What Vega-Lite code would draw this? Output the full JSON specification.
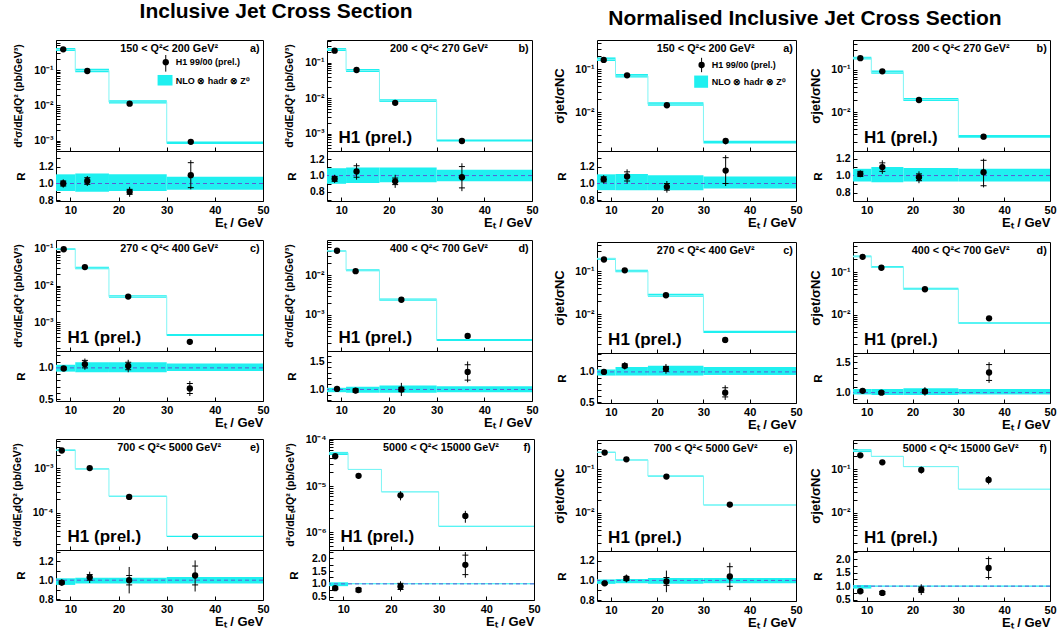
{
"$schema": "https://vega.github.io/schema/vega-lite/v6.json",
"padding": {"left": 11, "top": 0, "right": 0, "bottom": 0},
"background": "white",
"data": {"name": "pts"},
"datasets": {
"pts": [
{"p":"La","lo":7,"hi":11,"x":8.5,"y":0.386,"ylo":0.367,"yhi":0.405,"n":0.38,"nlo":0.346,"nhi":0.422,"r":1.0,"rlo":0.95,"rhi":1.05,"rslo":0.97,"rshi":1.03,"blo":0.91,"bhi":1.11},
{"p":"La","lo":11,"hi":18,"x":13.5,"y":0.094,"ylo":0.0884,"yhi":0.0996,"n":0.097,"nlo":0.0873,"nhi":0.1086,"r":1.03,"rlo":0.97,"rhi":1.09,"rslo":0.99,"rshi":1.07,"blo":0.90,"bhi":1.12},
{"p":"La","lo":18,"hi":30,"x":22.3,"y":0.0112,"ylo":0.0105,"yhi":0.0119,"n":0.0125,"nlo":0.01138,"nhi":0.01388,"r":0.90,"rlo":0.84,"rhi":0.96,"rslo":0.87,"rshi":0.93,"blo":0.91,"bhi":1.11},
{"p":"La","lo":30,"hi":50,"x":35,"y":0.00093,"ylo":0.00079,"yhi":0.00108,"n":0.00087,"nlo":0.000805,"nhi":0.00094,"r":1.10,"rlo":0.93,"rhi":1.28,"rslo":0.95,"rshi":1.25,"blo":0.925,"bhi":1.08},
{"p":"Lb","lo":7,"hi":11,"x":8.6,"y":0.216,"ylo":0.205,"yhi":0.227,"n":0.235,"nlo":0.2115,"nhi":0.256,"r":0.96,"rlo":0.91,"rhi":1.01,"rslo":0.93,"rshi":0.99,"blo":0.90,"bhi":1.09},
{"p":"Lb","lo":11,"hi":18,"x":13.2,"y":0.062,"ylo":0.056,"yhi":0.068,"n":0.06,"nlo":0.0546,"nhi":0.066,"r":1.05,"rlo":0.95,"rhi":1.15,"rslo":0.98,"rshi":1.12,"blo":0.91,"bhi":1.10},
{"p":"Lb","lo":18,"hi":30,"x":21.3,"y":0.0074,"ylo":0.0068,"yhi":0.008,"n":0.0085,"nlo":0.00782,"nhi":0.00935,"r":0.93,"rlo":0.85,"rhi":1.01,"rslo":0.89,"rshi":0.97,"blo":0.92,"bhi":1.10},
{"p":"Lb","lo":30,"hi":50,"x":35.3,"y":0.00063,"ylo":0.00052,"yhi":0.00074,"n":0.00065,"nlo":0.000605,"nhi":0.000696,"r":0.98,"rlo":0.81,"rhi":1.15,"rslo":0.85,"rshi":1.11,"blo":0.93,"bhi":1.07},
{"p":"Lc","lo":7,"hi":11,"x":8.6,"y":0.098,"ylo":0.095,"yhi":0.101,"n":0.1,"nlo":0.094,"nhi":0.105,"r":0.99,"rlo":0.96,"rhi":1.02,"rslo":0.97,"rshi":1.01,"blo":0.94,"bhi":1.05},
{"p":"Lc","lo":11,"hi":18,"x":13.0,"y":0.0318,"ylo":0.0291,"yhi":0.0345,"n":0.0298,"nlo":0.0277,"nhi":0.0325,"r":1.06,"rlo":0.97,"rhi":1.15,"rslo":1.0,"rshi":1.12,"blo":0.93,"bhi":1.09},
{"p":"Lc","lo":18,"hi":30,"x":22.0,"y":0.005,"ylo":0.0045,"yhi":0.0055,"n":0.005,"nlo":0.00465,"nhi":0.00545,"r":1.03,"rlo":0.93,"rhi":1.13,"rslo":0.97,"rshi":1.09,"blo":0.93,"bhi":1.09},
{"p":"Lc","lo":30,"hi":50,"x":34.8,"y":0.00029,"ylo":0.00024,"yhi":0.00034,"n":0.00044,"nlo":0.000418,"nhi":0.000471,"r":0.67,"rlo":0.55,"rhi":0.79,"rslo":0.59,"rshi":0.75,"blo":0.95,"bhi":1.07},
{"p":"Ld","lo":7,"hi":11,"x":9.1,"y":0.041,"ylo":0.0402,"yhi":0.0418,"n":0.041,"nlo":0.039,"nhi":0.0422,"r":1.01,"rlo":0.99,"rhi":1.03,"rslo":1.0,"rshi":1.02,"blo":0.95,"bhi":1.03},
{"p":"Ld","lo":11,"hi":18,"x":13.0,"y":0.0126,"ylo":0.012,"yhi":0.0132,"n":0.0133,"nlo":0.0125,"nhi":0.01397,"r":0.98,"rlo":0.93,"rhi":1.03,"rslo":0.95,"rshi":1.01,"blo":0.94,"bhi":1.05},
{"p":"Ld","lo":18,"hi":30,"x":22.6,"y":0.0024,"ylo":0.0021,"yhi":0.0027,"n":0.0024,"nlo":0.002256,"nhi":0.002568,"r":1.0,"rlo":0.88,"rhi":1.12,"rslo":0.96,"rshi":1.04,"blo":0.94,"bhi":1.07},
{"p":"Ld","lo":30,"hi":50,"x":36.5,"y":0.000295,"ylo":0.00025,"yhi":0.00034,"n":0.000231,"nlo":0.000219,"nhi":0.000245,"r":1.32,"rlo":1.13,"rhi":1.51,"rslo":1.17,"rshi":1.45,"blo":0.95,"bhi":1.06},
{"p":"Le","lo":7,"hi":11,"x":8.2,"y":0.00247,"ylo":0.00238,"yhi":0.00256,"n":0.00255,"nlo":0.00242,"nhi":0.0026,"r":0.975,"rlo":0.94,"rhi":1.01,"rslo":0.96,"rshi":0.99,"blo":0.95,"bhi":1.02},
{"p":"Le","lo":11,"hi":18,"x":14.0,"y":0.001,"ylo":0.00094,"yhi":0.00106,"n":0.00097,"nlo":0.000936,"nhi":0.000994,"r":1.03,"rlo":0.97,"rhi":1.09,"rslo":1.0,"rshi":1.06,"blo":0.965,"bhi":1.025},
{"p":"Le","lo":18,"hi":30,"x":22.2,"y":0.000227,"ylo":0.000195,"yhi":0.000259,"n":0.000235,"nlo":0.000227,"nhi":0.000241,"r":1.0,"rlo":0.86,"rhi":1.14,"rslo":0.95,"rshi":1.05,"blo":0.965,"bhi":1.025},
{"p":"Le","lo":30,"hi":50,"x":35.9,"y":0.00003,"ylo":0.000025,"yhi":0.000035,"n":0.00003,"nlo":0.000029,"nhi":0.000031,"r":1.05,"rlo":0.88,"rhi":1.21,"rslo":0.95,"rshi":1.15,"blo":0.965,"bhi":1.035},
{"p":"Lf","lo":7,"hi":11,"x":8.3,"y":4.43e-5,"ylo":4.0e-5,"yhi":4.9e-5,"n":5.2e-5,"nlo":4.73e-5,"nhi":5.51e-5,"r":0.83,"rlo":0.75,"rhi":0.91,"rslo":0.78,"rshi":0.88,"blo":0.91,"bhi":1.06},
{"p":"Lf","lo":11,"hi":18,"x":13.2,"y":1.67e-5,"ylo":1.45e-5,"yhi":1.9e-5,"n":2.3e-5,"nlo":2.25e-5,"nhi":2.35e-5,"r":0.76,"rlo":0.66,"rhi":0.86,"rslo":0.69,"rshi":0.83,"blo":0.98,"bhi":1.02},
{"p":"Lf","lo":18,"hi":30,"x":22.0,"y":6.3e-6,"ylo":4.9e-6,"yhi":7.7e-6,"n":7.5e-6,"nlo":7.35e-6,"nhi":7.65e-6,"r":0.9,"rlo":0.7,"rhi":1.1,"rslo":0.78,"rshi":1.02,"blo":0.98,"bhi":1.02},
{"p":"Lf","lo":30,"hi":50,"x":35.6,"y":2.25e-6,"ylo":1.6e-6,"yhi":2.9e-6,"n":1.34e-6,"nlo":1.31e-6,"nhi":1.37e-6,"r":1.74,"rlo":1.24,"rhi":2.24,"rslo":1.36,"rshi":2.12,"blo":0.98,"bhi":1.02},
{"p":"Ra","lo":7,"hi":11,"x":8.45,"y":0.165,"ylo":0.157,"yhi":0.173,"n":0.17,"nlo":0.156,"nhi":0.189,"r":1.05,"rlo":1.0,"rhi":1.1,"rslo":1.02,"rshi":1.08,"blo":0.92,"bhi":1.11},
{"p":"Ra","lo":11,"hi":18,"x":13.5,"y":0.0725,"ylo":0.067,"yhi":0.078,"n":0.07,"nlo":0.0644,"nhi":0.078,"r":1.085,"rlo":1.0,"rhi":1.17,"rslo":1.03,"rshi":1.14,"blo":0.92,"bhi":1.115},
{"p":"Ra","lo":18,"hi":30,"x":22.1,"y":0.0146,"ylo":0.0135,"yhi":0.0157,"n":0.0155,"nlo":0.01426,"nhi":0.01705,"r":0.96,"rlo":0.89,"rhi":1.03,"rslo":0.92,"rshi":1.0,"blo":0.92,"bhi":1.10},
{"p":"Ra","lo":30,"hi":50,"x":34.8,"y":0.00215,"ylo":0.0018,"yhi":0.0025,"n":0.002,"nlo":0.00188,"nhi":0.00217,"r":1.155,"rlo":0.97,"rhi":1.34,"rslo":1.0,"rshi":1.31,"blo":0.94,"bhi":1.085},
{"p":"Rb","lo":7,"hi":11,"x":8.6,"y":0.19,"ylo":0.182,"yhi":0.198,"n":0.19,"nlo":0.177,"nhi":0.205,"r":1.02,"rlo":0.98,"rhi":1.06,"rslo":0.99,"rshi":1.05,"blo":0.93,"bhi":1.08},
{"p":"Rb","lo":11,"hi":18,"x":13.4,"y":0.093,"ylo":0.086,"yhi":0.1,"n":0.088,"nlo":0.081,"nhi":0.0968,"r":1.1,"rlo":1.02,"rhi":1.18,"rslo":1.05,"rshi":1.15,"blo":0.92,"bhi":1.10},
{"p":"Rb","lo":18,"hi":30,"x":21.4,"y":0.0195,"ylo":0.0181,"yhi":0.0209,"n":0.02,"nlo":0.0186,"nhi":0.0218,"r":0.98,"rlo":0.91,"rhi":1.05,"rslo":0.94,"rshi":1.02,"blo":0.93,"bhi":1.09},
{"p":"Rb","lo":30,"hi":50,"x":35.5,"y":0.00266,"ylo":0.0023,"yhi":0.003,"n":0.0027,"nlo":0.00251,"nhi":0.00292,"r":1.04,"rlo":0.86,"rhi":1.2,"rslo":0.88,"rshi":1.18,"blo":0.93,"bhi":1.08},
{"p":"Rc","lo":7,"hi":11,"x":8.5,"y":0.186,"ylo":0.182,"yhi":0.19,"n":0.195,"nlo":0.183,"nhi":0.203,"r":1.0,"rlo":0.98,"rhi":1.02,"rslo":0.99,"rshi":1.01,"blo":0.94,"bhi":1.04},
{"p":"Rc","lo":11,"hi":18,"x":13.0,"y":0.104,"ylo":0.099,"yhi":0.109,"n":0.1,"nlo":0.094,"nhi":0.108,"r":1.1,"rlo":1.04,"rhi":1.16,"rslo":1.07,"rshi":1.13,"blo":0.94,"bhi":1.08},
{"p":"Rc","lo":18,"hi":30,"x":21.9,"y":0.0274,"ylo":0.0254,"yhi":0.0294,"n":0.027,"nlo":0.0254,"nhi":0.0297,"r":1.05,"rlo":0.97,"rhi":1.13,"rslo":1.01,"rshi":1.09,"blo":0.94,"bhi":1.10},
{"p":"Rc","lo":30,"hi":50,"x":34.7,"y":0.0025,"ylo":0.0021,"yhi":0.0029,"n":0.0038,"nlo":0.00361,"nhi":0.0041,"r":0.66,"rlo":0.54,"rhi":0.78,"rslo":0.59,"rshi":0.74,"blo":0.95,"bhi":1.08},
{"p":"Rd","lo":7,"hi":11,"x":9.1,"y":0.227,"ylo":0.222,"yhi":0.232,"n":0.23,"nlo":0.223,"nhi":0.244,"r":1.03,"rlo":1.01,"rhi":1.05,"rslo":1.02,"rshi":1.04,"blo":0.97,"bhi":1.06},
{"p":"Rd","lo":11,"hi":18,"x":13.2,"y":0.126,"ylo":0.121,"yhi":0.131,"n":0.13,"nlo":0.125,"nhi":0.138,"r":1.0,"rlo":0.96,"rhi":1.04,"rslo":0.98,"rshi":1.02,"blo":0.96,"bhi":1.06},
{"p":"Rd","lo":18,"hi":30,"x":22.7,"y":0.0395,"ylo":0.037,"yhi":0.042,"n":0.04,"nlo":0.0384,"nhi":0.0428,"r":1.02,"rlo":0.95,"rhi":1.09,"rslo":0.99,"rshi":1.05,"blo":0.96,"bhi":1.07},
{"p":"Rd","lo":30,"hi":50,"x":36.7,"y":0.0082,"ylo":0.0072,"yhi":0.0092,"n":0.0063,"nlo":0.00611,"nhi":0.00668,"r":1.33,"rlo":1.16,"rhi":1.5,"rslo":1.2,"rshi":1.46,"blo":0.97,"bhi":1.06},
{"p":"Re","lo":7,"hi":11,"x":8.65,"y":0.243,"ylo":0.238,"yhi":0.248,"n":0.25,"nlo":0.241,"nhi":0.2525,"r":0.97,"rlo":0.95,"rhi":0.99,"rslo":0.96,"rshi":0.98,"blo":0.965,"bhi":1.01},
{"p":"Re","lo":11,"hi":18,"x":13.35,"y":0.17,"ylo":0.163,"yhi":0.177,"n":0.165,"nlo":0.16,"nhi":0.1675,"r":1.02,"rlo":0.98,"rhi":1.06,"rslo":1.0,"rshi":1.04,"blo":0.97,"bhi":1.015},
{"p":"Re","lo":18,"hi":30,"x":22.0,"y":0.068,"ylo":0.06,"yhi":0.076,"n":0.07,"nlo":0.0676,"nhi":0.0718,"r":0.99,"rlo":0.88,"rhi":1.1,"rslo":0.95,"rshi":1.03,"blo":0.965,"bhi":1.025},
{"p":"Re","lo":30,"hi":50,"x":35.7,"y":0.0153,"ylo":0.0132,"yhi":0.0174,"n":0.015,"nlo":0.01455,"nhi":0.01538,"r":1.04,"rlo":0.9,"rhi":1.18,"rslo":0.94,"rshi":1.14,"blo":0.97,"bhi":1.025},
{"p":"Rf","lo":7,"hi":11,"x":8.6,"y":0.21,"ylo":0.195,"yhi":0.225,"n":0.27,"nlo":0.25,"nhi":0.29,"r":0.81,"rlo":0.75,"rhi":0.87,"rslo":0.77,"rshi":0.85,"blo":0.91,"bhi":1.04},
{"p":"Rf","lo":11,"hi":18,"x":13.4,"y":0.145,"ylo":0.13,"yhi":0.16,"n":0.2,"nlo":0.196,"nhi":0.204,"r":0.75,"rlo":0.67,"rhi":0.83,"rslo":0.7,"rshi":0.8,"blo":0.98,"bhi":1.02},
{"p":"Rf","lo":18,"hi":30,"x":21.9,"y":0.097,"ylo":0.079,"yhi":0.115,"n":0.115,"nlo":0.113,"nhi":0.117,"r":0.87,"rlo":0.67,"rhi":1.07,"rslo":0.77,"rshi":0.97,"blo":0.98,"bhi":1.02},
{"p":"Rf","lo":30,"hi":50,"x":36.6,"y":0.057,"ylo":0.045,"yhi":0.07,"n":0.035,"nlo":0.0343,"nhi":0.0357,"r":1.67,"rlo":1.24,"rhi":2.1,"rslo":1.32,"rshi":2.02,"blo":0.98,"bhi":1.02}
],
"ann": [
{"p":"La","q2":"150 < Q²< 200 GeV²","letter":"a)","leg1":"H1 99/00 (prel.)","leg2":"NLO ⊗ hadr ⊗ Z⁰"},
{"p":"Lb","q2":"200 < Q²< 270 GeV²","letter":"b)","h1":"H1 (prel.)"},
{"p":"Lc","q2":"270 < Q²< 400 GeV²","letter":"c)","h1":"H1 (prel.)"},
{"p":"Ld","q2":"400 < Q²< 700 GeV²","letter":"d)","h1":"H1 (prel.)"},
{"p":"Le","q2":"700 < Q²< 5000 GeV²","letter":"e)","h1":"H1 (prel.)"},
{"p":"Lf","q2":"5000 < Q²< 15000 GeV²","letter":"f)","h1":"H1 (prel.)"},
{"p":"Ra","q2":"150 < Q²< 200 GeV²","letter":"a)","leg1":"H1 99/00 (prel.)","leg2":"NLO ⊗ hadr ⊗ Z⁰"},
{"p":"Rb","q2":"200 < Q²< 270 GeV²","letter":"b)","h1":"H1 (prel.)"},
{"p":"Rc","q2":"270 < Q²< 400 GeV²","letter":"c)","h1":"H1 (prel.)"},
{"p":"Rd","q2":"400 < Q²< 700 GeV²","letter":"d)","h1":"H1 (prel.)"},
{"p":"Re","q2":"700 < Q²< 5000 GeV²","letter":"e)","h1":"H1 (prel.)"},
{"p":"Rf","q2":"5000 < Q²< 15000 GeV²","letter":"f)","h1":"H1 (prel.)"}
]
},
"hconcat": [
{
"title": {"text": "Inclusive Jet Cross Section", "fontSize": 21, "anchor": "middle", "offset": -4, "baseline": "alphabetic"},
"spacing": 6,
"vconcat": [
{"spacing": 14, "hconcat": [
{"spacing": 0, "bounds": "flush", "vconcat": [
{"width": 207, "height": 111, "transform": [{"filter": "datum.p=='La'"}], "layer": [
{"mark": {"type": "rect", "color": "#1ff0f0"}, "encoding": {
"x": {"field": "lo", "type": "quantitative", "scale": {"domain": [7, 50], "nice": false, "zero": false}, "axis": {"values": [10,20,30,40,50], "labels": false, "title": null}},
"x2": {"field": "hi"},
"y": {"field": "nlo", "type": "quantitative", "scale": {"type": "log", "domain": [5.1e-4, 0.71], "nice": false}, "axis": {"tickCount": 100, "values": [1e-7,2e-7,3e-7,4e-7,5e-7,6e-7,7e-7,8e-7,9e-7,1e-6,2e-6,3e-6,4e-6,5e-6,6e-6,7e-6,8e-6,9e-6,1e-5,2e-5,3e-5,4e-5,5e-5,6e-5,7e-5,8e-5,9e-5,1e-4,2e-4,3e-4,4e-4,5e-4,6e-4,7e-4,8e-4,9e-4,0.001,0.002,0.003,0.004,0.005,0.006,0.007,0.008,0.009,0.01,0.02,0.03,0.04,0.05,0.06,0.07,0.08,0.09,0.1,0.2,0.3,0.4,0.5,0.6,0.7,0.8,0.9,1], "labelExpr": "abs(log(datum.value)/LN10-round(log(datum.value)/LN10))<0.01 ? '10'+['⁻⁷','⁻⁶','⁻⁵','⁻⁴','⁻³','⁻²','⁻¹','⁰'][round(log(datum.value)/LN10)+7] : ''", "title": "d²σ/dEₜdQ² (pb/GeV³)", "titleFontSize": 10.5, "titlePadding": 10, "labelFontSize": 10.5}},
"y2": {"field": "nhi"}}},
{"mark": {"type": "line", "interpolate": "step-after", "color": "#7ff5f5", "strokeWidth": 1}, "encoding": {"x": {"field": "lo", "type": "quantitative"}, "y": {"field": "n", "type": "quantitative"}}},
{"mark": {"type": "rule", "color": "black"}, "encoding": {"x": {"field": "x", "type": "quantitative"}, "y": {"field": "ylo", "type": "quantitative"}, "y2": {"field": "yhi"}}},
{"mark": {"type": "circle", "color": "black", "size": 40, "opacity": 1}, "encoding": {"x": {"field": "x", "type": "quantitative"}, "y": {"field": "y", "type": "quantitative"}}},
{"data": {"name": "ann"}, "transform": [{"filter": "datum.p=='La'"}], "mark": {"type": "text", "fontSize": 10.8, "fontWeight": "bold", "align": "center", "baseline": "alphabetic"}, "encoding": {"text": {"field": "q2"}, "x": {"datum": 30.5}, "y": {"datum": 0.324}}},
{"data": {"name": "ann"}, "transform": [{"filter": "datum.p=='La'"}], "mark": {"type": "text", "fontSize": 10.8, "fontWeight": "bold", "align": "right", "baseline": "alphabetic"}, "encoding": {"text": {"field": "letter"}, "x": {"datum": 49.3}, "y": {"datum": 0.324}}},
{"data": {"name": "ann"}, "transform": [{"filter": "datum.p=='La'"}], "mark": {"type": "rect", "color": "#1ff0f0"}, "encoding": {"x": {"datum": 28.1}, "x2": {"datum": 31.2}, "y": {"datum": 0.0365}, "y2": {"datum": 0.0726}}},
{"data": {"name": "ann"}, "transform": [{"filter": "datum.p=='La'"}], "mark": {"type": "rule", "color": "black"}, "encoding": {"x": {"datum": 29.8}, "y": {"datum": 0.0902}, "y2": {"datum": 0.267}}},
{"data": {"name": "ann"}, "transform": [{"filter": "datum.p=='La'"}], "mark": {"type": "circle", "color": "black", "size": 40, "opacity": 1}, "encoding": {"x": {"datum": 29.8}, "y": {"datum": 0.167}}},
{"data": {"name": "ann"}, "transform": [{"filter": "datum.p=='La'"}], "mark": {"type": "text", "fontSize": 9, "fontWeight": "bold", "align": "left", "baseline": "middle"}, "encoding": {"text": {"field": "leg1"}, "x": {"datum": 31.9}, "y": {"datum": 0.167}}},
{"data": {"name": "ann"}, "transform": [{"filter": "datum.p=='La'"}], "mark": {"type": "text", "fontSize": 9, "fontWeight": "bold", "align": "left", "baseline": "middle"}, "encoding": {"text": {"field": "leg2"}, "x": {"datum": 31.9}, "y": {"datum": 0.0499}}}
]},
{"width": 207, "height": 50, "transform": [{"filter": "datum.p=='La'"}], "layer": [
{"mark": {"type": "rect", "color": "#1ff0f0"}, "encoding": {
"x": {"field": "lo", "type": "quantitative", "scale": {"domain": [7, 50], "nice": false, "zero": false}, "axis": {"values": [10,20,30,40,50], "title": "Eₜ / GeV", "titleAnchor": "end", "titleFontSize": 13, "labelFontSize": 11, "titlePadding": 1}},
"x2": {"field": "hi"},
"y": {"field": "blo", "type": "quantitative", "scale": {"domain": [0.79, 1.39], "nice": false, "zero": false}, "axis": {"tickCount": 100, "values": [0.4,0.5,0.6,0.7,0.8,0.9,1.0,1.1,1.2,1.3,1.4,1.5], "labelExpr": "abs(datum.value*5-round(datum.value*5))<0.01 ? format(datum.value,'.1f') : ''", "title": "R", "titleFontSize": 11.5, "titlePadding": 12, "labelFontSize": 10.5}},
"y2": {"field": "bhi"}}},
{"data": {"name": "ann"}, "transform": [{"filter": "datum.p=='La'"}], "mark": {"type": "rule", "color": "#5b5bd6", "strokeDash": [4, 3]}, "encoding": {"y": {"datum": 1}}},
{"mark": {"type": "rule", "color": "black"}, "encoding": {"x": {"field": "x", "type": "quantitative"}, "y": {"field": "rlo", "type": "quantitative"}, "y2": {"field": "rhi"}}},
{"mark": {"type": "tick", "orient": "horizontal", "size": 6, "thickness": 1, "color": "black", "opacity": 1}, "encoding": {"x": {"field": "x", "type": "quantitative"}, "y": {"field": "rslo", "type": "quantitative"}}},
{"mark": {"type": "tick", "orient": "horizontal", "size": 6, "thickness": 1, "color": "black", "opacity": 1}, "encoding": {"x": {"field": "x", "type": "quantitative"}, "y": {"field": "rshi", "type": "quantitative"}}},
{"mark": {"type": "circle", "color": "black", "size": 40, "opacity": 1}, "encoding": {"x": {"field": "x", "type": "quantitative"}, "y": {"field": "r", "type": "quantitative"}}}
]}
]},
{"spacing": 0, "bounds": "flush", "vconcat": [
{"width": 205, "height": 111, "transform": [{"filter": "datum.p=='Lb'"}], "layer": [
{"mark": {"type": "rect", "color": "#1ff0f0"}, "encoding": {
"x": {"field": "lo", "type": "quantitative", "scale": {"domain": [7, 50], "nice": false, "zero": false}, "axis": {"values": [10,20,30,40,50], "labels": false, "title": null}},
"x2": {"field": "hi"},
"y": {"field": "nlo", "type": "quantitative", "scale": {"type": "log", "domain": [3.3e-4, 0.43], "nice": false}, "axis": {"tickCount": 100, "values": [1e-7,2e-7,3e-7,4e-7,5e-7,6e-7,7e-7,8e-7,9e-7,1e-6,2e-6,3e-6,4e-6,5e-6,6e-6,7e-6,8e-6,9e-6,1e-5,2e-5,3e-5,4e-5,5e-5,6e-5,7e-5,8e-5,9e-5,1e-4,2e-4,3e-4,4e-4,5e-4,6e-4,7e-4,8e-4,9e-4,0.001,0.002,0.003,0.004,0.005,0.006,0.007,0.008,0.009,0.01,0.02,0.03,0.04,0.05,0.06,0.07,0.08,0.09,0.1,0.2,0.3,0.4,0.5,0.6,0.7,0.8,0.9,1], "labelExpr": "abs(log(datum.value)/LN10-round(log(datum.value)/LN10))<0.01 ? '10'+['⁻⁷','⁻⁶','⁻⁵','⁻⁴','⁻³','⁻²','⁻¹','⁰'][round(log(datum.value)/LN10)+7] : ''", "title": "d²σ/dEₜdQ² (pb/GeV³)", "titleFontSize": 10.5, "titlePadding": 10, "labelFontSize": 10.5}},
"y2": {"field": "nhi"}}},
{"mark": {"type": "line", "interpolate": "step-after", "color": "#7ff5f5", "strokeWidth": 1}, "encoding": {"x": {"field": "lo", "type": "quantitative"}, "y": {"field": "n", "type": "quantitative"}}},
{"mark": {"type": "rule", "color": "black"}, "encoding": {"x": {"field": "x", "type": "quantitative"}, "y": {"field": "ylo", "type": "quantitative"}, "y2": {"field": "yhi"}}},
{"mark": {"type": "circle", "color": "black", "size": 40, "opacity": 1}, "encoding": {"x": {"field": "x", "type": "quantitative"}, "y": {"field": "y", "type": "quantitative"}}},
{"data": {"name": "ann"}, "transform": [{"filter": "datum.p=='Lb'"}], "mark": {"type": "text", "fontSize": 10.8, "fontWeight": "bold", "align": "center", "baseline": "alphabetic"}, "encoding": {"text": {"field": "q2"}, "x": {"datum": 30.5}, "y": {"datum": 0.198}}},
{"data": {"name": "ann"}, "transform": [{"filter": "datum.p=='Lb'"}], "mark": {"type": "text", "fontSize": 10.8, "fontWeight": "bold", "align": "right", "baseline": "alphabetic"}, "encoding": {"text": {"field": "letter"}, "x": {"datum": 49.3}, "y": {"datum": 0.198}}},
{"data": {"name": "ann"}, "transform": [{"filter": "datum.p=='Lb'"}], "mark": {"type": "text", "fontSize": 17, "fontWeight": "bold", "align": "left", "baseline": "alphabetic"}, "encoding": {"text": {"field": "h1"}, "x": {"datum": 9.4}, "y": {"datum": 5.66e-4}}}
]},
{"width": 205, "height": 50, "transform": [{"filter": "datum.p=='Lb'"}], "layer": [
{"mark": {"type": "rect", "color": "#1ff0f0"}, "encoding": {
"x": {"field": "lo", "type": "quantitative", "scale": {"domain": [7, 50], "nice": false, "zero": false}, "axis": {"values": [10,20,30,40,50], "title": "Eₜ / GeV", "titleAnchor": "end", "titleFontSize": 13, "labelFontSize": 11, "titlePadding": 1}},
"x2": {"field": "hi"},
"y": {"field": "blo", "type": "quantitative", "scale": {"domain": [0.69, 1.3], "nice": false, "zero": false}, "axis": {"tickCount": 100, "values": [0.4,0.5,0.6,0.7,0.8,0.9,1.0,1.1,1.2,1.3,1.4,1.5], "labelExpr": "abs(datum.value*5-round(datum.value*5))<0.01 ? format(datum.value,'.1f') : ''", "title": "R", "titleFontSize": 11.5, "titlePadding": 12, "labelFontSize": 10.5}},
"y2": {"field": "bhi"}}},
{"data": {"name": "ann"}, "transform": [{"filter": "datum.p=='Lb'"}], "mark": {"type": "rule", "color": "#5b5bd6", "strokeDash": [4, 3]}, "encoding": {"y": {"datum": 1}}},
{"mark": {"type": "rule", "color": "black"}, "encoding": {"x": {"field": "x", "type": "quantitative"}, "y": {"field": "rlo", "type": "quantitative"}, "y2": {"field": "rhi"}}},
{"mark": {"type": "tick", "orient": "horizontal", "size": 6, "thickness": 1, "color": "black", "opacity": 1}, "encoding": {"x": {"field": "x", "type": "quantitative"}, "y": {"field": "rslo", "type": "quantitative"}}},
{"mark": {"type": "tick", "orient": "horizontal", "size": 6, "thickness": 1, "color": "black", "opacity": 1}, "encoding": {"x": {"field": "x", "type": "quantitative"}, "y": {"field": "rshi", "type": "quantitative"}}},
{"mark": {"type": "circle", "color": "black", "size": 40, "opacity": 1}, "encoding": {"x": {"field": "x", "type": "quantitative"}, "y": {"field": "r", "type": "quantitative"}}}
]}
]}
]},
{"spacing": 4, "vconcat": [
{"spacing": 14, "hconcat": [
{"spacing": 0, "bounds": "flush", "vconcat": [
{"width": 207, "height": 111, "transform": [{"filter": "datum.p=='Lc'"}], "layer": [
{"mark": {"type": "rect", "color": "#1ff0f0"}, "encoding": {
"x": {"field": "lo", "type": "quantitative", "scale": {"domain": [7, 50], "nice": false, "zero": false}, "axis": {"values": [10,20,30,40,50], "labels": false, "title": null}},
"x2": {"field": "hi"},
"y": {"field": "nlo", "type": "quantitative", "scale": {"type": "log", "domain": [1.63e-4, 0.175], "nice": false}, "axis": {"tickCount": 100, "values": [1e-7,2e-7,3e-7,4e-7,5e-7,6e-7,7e-7,8e-7,9e-7,1e-6,2e-6,3e-6,4e-6,5e-6,6e-6,7e-6,8e-6,9e-6,1e-5,2e-5,3e-5,4e-5,5e-5,6e-5,7e-5,8e-5,9e-5,1e-4,2e-4,3e-4,4e-4,5e-4,6e-4,7e-4,8e-4,9e-4,0.001,0.002,0.003,0.004,0.005,0.006,0.007,0.008,0.009,0.01,0.02,0.03,0.04,0.05,0.06,0.07,0.08,0.09,0.1,0.2,0.3,0.4,0.5,0.6,0.7,0.8,0.9,1], "labelExpr": "abs(log(datum.value)/LN10-round(log(datum.value)/LN10))<0.01 ? '10'+['⁻⁷','⁻⁶','⁻⁵','⁻⁴','⁻³','⁻²','⁻¹','⁰'][round(log(datum.value)/LN10)+7] : ''", "title": "d²σ/dEₜdQ² (pb/GeV³)", "titleFontSize": 10.5, "titlePadding": 10, "labelFontSize": 10.5}},
"y2": {"field": "nhi"}}},
{"mark": {"type": "line", "interpolate": "step-after", "color": "#7ff5f5", "strokeWidth": 1}, "encoding": {"x": {"field": "lo", "type": "quantitative"}, "y": {"field": "n", "type": "quantitative"}}},
{"mark": {"type": "rule", "color": "black"}, "encoding": {"x": {"field": "x", "type": "quantitative"}, "y": {"field": "ylo", "type": "quantitative"}, "y2": {"field": "yhi"}}},
{"mark": {"type": "circle", "color": "black", "size": 40, "opacity": 1}, "encoding": {"x": {"field": "x", "type": "quantitative"}, "y": {"field": "y", "type": "quantitative"}}},
{"data": {"name": "ann"}, "transform": [{"filter": "datum.p=='Lc'"}], "mark": {"type": "text", "fontSize": 10.8, "fontWeight": "bold", "align": "center", "baseline": "alphabetic"}, "encoding": {"text": {"field": "q2"}, "x": {"datum": 30.5}, "y": {"datum": 0.0824}}},
{"data": {"name": "ann"}, "transform": [{"filter": "datum.p=='Lc'"}], "mark": {"type": "text", "fontSize": 10.8, "fontWeight": "bold", "align": "right", "baseline": "alphabetic"}, "encoding": {"text": {"field": "letter"}, "x": {"datum": 49.3}, "y": {"datum": 0.0824}}},
{"data": {"name": "ann"}, "transform": [{"filter": "datum.p=='Lc'"}], "mark": {"type": "text", "fontSize": 17, "fontWeight": "bold", "align": "left", "baseline": "alphabetic"}, "encoding": {"text": {"field": "h1"}, "x": {"datum": 9.4}, "y": {"datum": 2.75e-4}}}
]},
{"width": 207, "height": 50, "transform": [{"filter": "datum.p=='Lc'"}], "layer": [
{"mark": {"type": "rect", "color": "#1ff0f0"}, "encoding": {
"x": {"field": "lo", "type": "quantitative", "scale": {"domain": [7, 50], "nice": false, "zero": false}, "axis": {"values": [10,20,30,40,50], "title": "Eₜ / GeV", "titleAnchor": "end", "titleFontSize": 13, "labelFontSize": 11, "titlePadding": 1}},
"x2": {"field": "hi"},
"y": {"field": "blo", "type": "quantitative", "scale": {"domain": [0.47, 1.27], "nice": false, "zero": false}, "axis": {"tickCount": 100, "values": [0.4,0.5,0.6,0.7,0.8,0.9,1.0,1.1,1.2,1.3,1.4,1.5,1.6,1.7,1.8], "labelExpr": "abs(datum.value*2-round(datum.value*2))<0.01 ? format(datum.value,'.1f') : ''", "title": "R", "titleFontSize": 11.5, "titlePadding": 12, "labelFontSize": 10.5}},
"y2": {"field": "bhi"}}},
{"data": {"name": "ann"}, "transform": [{"filter": "datum.p=='Lc'"}], "mark": {"type": "rule", "color": "#5b5bd6", "strokeDash": [4, 3]}, "encoding": {"y": {"datum": 1}}},
{"mark": {"type": "rule", "color": "black"}, "encoding": {"x": {"field": "x", "type": "quantitative"}, "y": {"field": "rlo", "type": "quantitative"}, "y2": {"field": "rhi"}}},
{"mark": {"type": "tick", "orient": "horizontal", "size": 6, "thickness": 1, "color": "black", "opacity": 1}, "encoding": {"x": {"field": "x", "type": "quantitative"}, "y": {"field": "rslo", "type": "quantitative"}}},
{"mark": {"type": "tick", "orient": "horizontal", "size": 6, "thickness": 1, "color": "black", "opacity": 1}, "encoding": {"x": {"field": "x", "type": "quantitative"}, "y": {"field": "rshi", "type": "quantitative"}}},
{"mark": {"type": "circle", "color": "black", "size": 40, "opacity": 1}, "encoding": {"x": {"field": "x", "type": "quantitative"}, "y": {"field": "r", "type": "quantitative"}}}
]}
]},
{"spacing": 0, "bounds": "flush", "vconcat": [
{"width": 205, "height": 111, "transform": [{"filter": "datum.p=='Ld'"}], "layer": [
{"mark": {"type": "rect", "color": "#1ff0f0"}, "encoding": {
"x": {"field": "lo", "type": "quantitative", "scale": {"domain": [7, 50], "nice": false, "zero": false}, "axis": {"values": [10,20,30,40,50], "labels": false, "title": null}},
"x2": {"field": "hi"},
"y": {"field": "nlo", "type": "quantitative", "scale": {"type": "log", "domain": [1.23e-4, 0.0766], "nice": false}, "axis": {"tickCount": 100, "values": [1e-7,2e-7,3e-7,4e-7,5e-7,6e-7,7e-7,8e-7,9e-7,1e-6,2e-6,3e-6,4e-6,5e-6,6e-6,7e-6,8e-6,9e-6,1e-5,2e-5,3e-5,4e-5,5e-5,6e-5,7e-5,8e-5,9e-5,1e-4,2e-4,3e-4,4e-4,5e-4,6e-4,7e-4,8e-4,9e-4,0.001,0.002,0.003,0.004,0.005,0.006,0.007,0.008,0.009,0.01,0.02,0.03,0.04,0.05,0.06,0.07,0.08,0.09,0.1,0.2,0.3,0.4,0.5,0.6,0.7,0.8,0.9,1], "labelExpr": "abs(log(datum.value)/LN10-round(log(datum.value)/LN10))<0.01 ? '10'+['⁻⁷','⁻⁶','⁻⁵','⁻⁴','⁻³','⁻²','⁻¹','⁰'][round(log(datum.value)/LN10)+7] : ''", "title": "d²σ/dEₜdQ² (pb/GeV³)", "titleFontSize": 10.5, "titlePadding": 10, "labelFontSize": 10.5}},
"y2": {"field": "nhi"}}},
{"mark": {"type": "line", "interpolate": "step-after", "color": "#7ff5f5", "strokeWidth": 1}, "encoding": {"x": {"field": "lo", "type": "quantitative"}, "y": {"field": "n", "type": "quantitative"}}},
{"mark": {"type": "rule", "color": "black"}, "encoding": {"x": {"field": "x", "type": "quantitative"}, "y": {"field": "ylo", "type": "quantitative"}, "y2": {"field": "yhi"}}},
{"mark": {"type": "circle", "color": "black", "size": 40, "opacity": 1}, "encoding": {"x": {"field": "x", "type": "quantitative"}, "y": {"field": "y", "type": "quantitative"}}},
{"data": {"name": "ann"}, "transform": [{"filter": "datum.p=='Ld'"}], "mark": {"type": "text", "fontSize": 10.8, "fontWeight": "bold", "align": "center", "baseline": "alphabetic"}, "encoding": {"text": {"field": "q2"}, "x": {"datum": 30.5}, "y": {"datum": 0.0382}}},
{"data": {"name": "ann"}, "transform": [{"filter": "datum.p=='Ld'"}], "mark": {"type": "text", "fontSize": 10.8, "fontWeight": "bold", "align": "right", "baseline": "alphabetic"}, "encoding": {"text": {"field": "letter"}, "x": {"datum": 49.3}, "y": {"datum": 0.0382}}},
{"data": {"name": "ann"}, "transform": [{"filter": "datum.p=='Ld'"}], "mark": {"type": "text", "fontSize": 17, "fontWeight": "bold", "align": "left", "baseline": "alphabetic"}, "encoding": {"text": {"field": "h1"}, "x": {"datum": 9.4}, "y": {"datum": 2.0e-4}}}
]},
{"width": 205, "height": 50, "transform": [{"filter": "datum.p=='Ld'"}], "layer": [
{"mark": {"type": "rect", "color": "#1ff0f0"}, "encoding": {
"x": {"field": "lo", "type": "quantitative", "scale": {"domain": [7, 50], "nice": false, "zero": false}, "axis": {"values": [10,20,30,40,50], "title": "Eₜ / GeV", "titleAnchor": "end", "titleFontSize": 13, "labelFontSize": 11, "titlePadding": 1}},
"x2": {"field": "hi"},
"y": {"field": "blo", "type": "quantitative", "scale": {"domain": [0.79, 1.7], "nice": false, "zero": false}, "axis": {"tickCount": 100, "values": [0.4,0.5,0.6,0.7,0.8,0.9,1.0,1.1,1.2,1.3,1.4,1.5,1.6,1.7,1.8], "labelExpr": "abs(datum.value*2-round(datum.value*2))<0.01 ? format(datum.value,'.1f') : ''", "title": "R", "titleFontSize": 11.5, "titlePadding": 12, "labelFontSize": 10.5}},
"y2": {"field": "bhi"}}},
{"data": {"name": "ann"}, "transform": [{"filter": "datum.p=='Ld'"}], "mark": {"type": "rule", "color": "#5b5bd6", "strokeDash": [4, 3]}, "encoding": {"y": {"datum": 1}}},
{"mark": {"type": "rule", "color": "black"}, "encoding": {"x": {"field": "x", "type": "quantitative"}, "y": {"field": "rlo", "type": "quantitative"}, "y2": {"field": "rhi"}}},
{"mark": {"type": "tick", "orient": "horizontal", "size": 6, "thickness": 1, "color": "black", "opacity": 1}, "encoding": {"x": {"field": "x", "type": "quantitative"}, "y": {"field": "rslo", "type": "quantitative"}}},
{"mark": {"type": "tick", "orient": "horizontal", "size": 6, "thickness": 1, "color": "black", "opacity": 1}, "encoding": {"x": {"field": "x", "type": "quantitative"}, "y": {"field": "rshi", "type": "quantitative"}}},
{"mark": {"type": "circle", "color": "black", "size": 40, "opacity": 1}, "encoding": {"x": {"field": "x", "type": "quantitative"}, "y": {"field": "r", "type": "quantitative"}}}
]}
]}
]},
{"spacing": 14, "hconcat": [
{"spacing": 0, "bounds": "flush", "vconcat": [
{"width": 207, "height": 111, "transform": [{"filter": "datum.p=='Le'"}], "layer": [
{"mark": {"type": "rect", "color": "#1ff0f0"}, "encoding": {
"x": {"field": "lo", "type": "quantitative", "scale": {"domain": [7, 50], "nice": false, "zero": false}, "axis": {"values": [10,20,30,40,50], "labels": false, "title": null}},
"x2": {"field": "hi"},
"y": {"field": "nlo", "type": "quantitative", "scale": {"type": "log", "domain": [1.48e-5, 4.47e-3], "nice": false}, "axis": {"tickCount": 100, "values": [1e-7,2e-7,3e-7,4e-7,5e-7,6e-7,7e-7,8e-7,9e-7,1e-6,2e-6,3e-6,4e-6,5e-6,6e-6,7e-6,8e-6,9e-6,1e-5,2e-5,3e-5,4e-5,5e-5,6e-5,7e-5,8e-5,9e-5,1e-4,2e-4,3e-4,4e-4,5e-4,6e-4,7e-4,8e-4,9e-4,0.001,0.002,0.003,0.004,0.005,0.006,0.007,0.008,0.009,0.01,0.02,0.03,0.04,0.05,0.06,0.07,0.08,0.09,0.1,0.2,0.3,0.4,0.5,0.6,0.7,0.8,0.9,1], "labelExpr": "abs(log(datum.value)/LN10-round(log(datum.value)/LN10))<0.01 ? '10'+['⁻⁷','⁻⁶','⁻⁵','⁻⁴','⁻³','⁻²','⁻¹','⁰'][round(log(datum.value)/LN10)+7] : ''", "title": "d²σ/dEₜdQ² (pb/GeV³)", "titleFontSize": 10.5, "titlePadding": 10, "labelFontSize": 10.5}},
"y2": {"field": "nhi"}}},
{"mark": {"type": "line", "interpolate": "step-after", "color": "#7ff5f5", "strokeWidth": 1}, "encoding": {"x": {"field": "lo", "type": "quantitative"}, "y": {"field": "n", "type": "quantitative"}}},
{"mark": {"type": "rule", "color": "black"}, "encoding": {"x": {"field": "x", "type": "quantitative"}, "y": {"field": "ylo", "type": "quantitative"}, "y2": {"field": "yhi"}}},
{"mark": {"type": "circle", "color": "black", "size": 40, "opacity": 1}, "encoding": {"x": {"field": "x", "type": "quantitative"}, "y": {"field": "y", "type": "quantitative"}}},
{"data": {"name": "ann"}, "transform": [{"filter": "datum.p=='Le'"}], "mark": {"type": "text", "fontSize": 10.8, "fontWeight": "bold", "align": "center", "baseline": "alphabetic"}, "encoding": {"text": {"field": "q2"}, "x": {"datum": 30.5}, "y": {"datum": 2.41e-3}}},
{"data": {"name": "ann"}, "transform": [{"filter": "datum.p=='Le'"}], "mark": {"type": "text", "fontSize": 10.8, "fontWeight": "bold", "align": "right", "baseline": "alphabetic"}, "encoding": {"text": {"field": "letter"}, "x": {"datum": 49.3}, "y": {"datum": 2.41e-3}}},
{"data": {"name": "ann"}, "transform": [{"filter": "datum.p=='Le'"}], "mark": {"type": "text", "fontSize": 17, "fontWeight": "bold", "align": "left", "baseline": "alphabetic"}, "encoding": {"text": {"field": "h1"}, "x": {"datum": 9.4}, "y": {"datum": 2.27e-5}}}
]},
{"width": 207, "height": 50, "transform": [{"filter": "datum.p=='Le'"}], "layer": [
{"mark": {"type": "rect", "color": "#1ff0f0"}, "encoding": {
"x": {"field": "lo", "type": "quantitative", "scale": {"domain": [7, 50], "nice": false, "zero": false}, "axis": {"values": [10,20,30,40,50], "title": "Eₜ / GeV", "titleAnchor": "end", "titleFontSize": 13, "labelFontSize": 11, "titlePadding": 1}},
"x2": {"field": "hi"},
"y": {"field": "blo", "type": "quantitative", "scale": {"domain": [0.79, 1.32], "nice": false, "zero": false}, "axis": {"tickCount": 100, "values": [0.4,0.5,0.6,0.7,0.8,0.9,1.0,1.1,1.2,1.3,1.4,1.5], "labelExpr": "abs(datum.value*5-round(datum.value*5))<0.01 ? format(datum.value,'.1f') : ''", "title": "R", "titleFontSize": 11.5, "titlePadding": 12, "labelFontSize": 10.5}},
"y2": {"field": "bhi"}}},
{"data": {"name": "ann"}, "transform": [{"filter": "datum.p=='Le'"}], "mark": {"type": "rule", "color": "#5b5bd6", "strokeDash": [4, 3]}, "encoding": {"y": {"datum": 1}}},
{"mark": {"type": "rule", "color": "black"}, "encoding": {"x": {"field": "x", "type": "quantitative"}, "y": {"field": "rlo", "type": "quantitative"}, "y2": {"field": "rhi"}}},
{"mark": {"type": "tick", "orient": "horizontal", "size": 6, "thickness": 1, "color": "black", "opacity": 1}, "encoding": {"x": {"field": "x", "type": "quantitative"}, "y": {"field": "rslo", "type": "quantitative"}}},
{"mark": {"type": "tick", "orient": "horizontal", "size": 6, "thickness": 1, "color": "black", "opacity": 1}, "encoding": {"x": {"field": "x", "type": "quantitative"}, "y": {"field": "rshi", "type": "quantitative"}}},
{"mark": {"type": "circle", "color": "black", "size": 40, "opacity": 1}, "encoding": {"x": {"field": "x", "type": "quantitative"}, "y": {"field": "r", "type": "quantitative"}}}
]}
]},
{"spacing": 0, "bounds": "flush", "vconcat": [
{"width": 205, "height": 111, "transform": [{"filter": "datum.p=='Lf'"}], "layer": [
{"mark": {"type": "rect", "color": "#1ff0f0"}, "encoding": {
"x": {"field": "lo", "type": "quantitative", "scale": {"domain": [7, 50], "nice": false, "zero": false}, "axis": {"values": [10,20,30,40,50], "labels": false, "title": null}},
"x2": {"field": "hi"},
"y": {"field": "nlo", "type": "quantitative", "scale": {"type": "log", "domain": [4.1e-7, 1.05e-4], "nice": false}, "axis": {"tickCount": 100, "values": [1e-7,2e-7,3e-7,4e-7,5e-7,6e-7,7e-7,8e-7,9e-7,1e-6,2e-6,3e-6,4e-6,5e-6,6e-6,7e-6,8e-6,9e-6,1e-5,2e-5,3e-5,4e-5,5e-5,6e-5,7e-5,8e-5,9e-5,1e-4,2e-4,3e-4,4e-4,5e-4,6e-4,7e-4,8e-4,9e-4,0.001,0.002,0.003,0.004,0.005,0.006,0.007,0.008,0.009,0.01,0.02,0.03,0.04,0.05,0.06,0.07,0.08,0.09,0.1,0.2,0.3,0.4,0.5,0.6,0.7,0.8,0.9,1], "labelExpr": "abs(log(datum.value)/LN10-round(log(datum.value)/LN10))<0.01 ? '10'+['⁻⁷','⁻⁶','⁻⁵','⁻⁴','⁻³','⁻²','⁻¹','⁰'][round(log(datum.value)/LN10)+7] : ''", "title": "d²σ/dEₜdQ² (pb/GeV³)", "titleFontSize": 10.5, "titlePadding": 10, "labelFontSize": 10.5}},
"y2": {"field": "nhi"}}},
{"mark": {"type": "line", "interpolate": "step-after", "color": "#7ff5f5", "strokeWidth": 1}, "encoding": {"x": {"field": "lo", "type": "quantitative"}, "y": {"field": "n", "type": "quantitative"}}},
{"mark": {"type": "rule", "color": "black"}, "encoding": {"x": {"field": "x", "type": "quantitative"}, "y": {"field": "ylo", "type": "quantitative"}, "y2": {"field": "yhi"}}},
{"mark": {"type": "circle", "color": "black", "size": 40, "opacity": 1}, "encoding": {"x": {"field": "x", "type": "quantitative"}, "y": {"field": "y", "type": "quantitative"}}},
{"data": {"name": "ann"}, "transform": [{"filter": "datum.p=='Lf'"}], "mark": {"type": "text", "fontSize": 10.8, "fontWeight": "bold", "align": "center", "baseline": "alphabetic"}, "encoding": {"text": {"field": "q2"}, "x": {"datum": 30.5}, "y": {"datum": 5.77e-5}}},
{"data": {"name": "ann"}, "transform": [{"filter": "datum.p=='Lf'"}], "mark": {"type": "text", "fontSize": 10.8, "fontWeight": "bold", "align": "right", "baseline": "alphabetic"}, "encoding": {"text": {"field": "letter"}, "x": {"datum": 49.3}, "y": {"datum": 5.77e-5}}},
{"data": {"name": "ann"}, "transform": [{"filter": "datum.p=='Lf'"}], "mark": {"type": "text", "fontSize": 17, "fontWeight": "bold", "align": "left", "baseline": "alphabetic"}, "encoding": {"text": {"field": "h1"}, "x": {"datum": 9.4}, "y": {"datum": 6.22e-7}}}
]},
{"width": 205, "height": 50, "transform": [{"filter": "datum.p=='Lf'"}], "layer": [
{"mark": {"type": "rect", "color": "#1ff0f0"}, "encoding": {
"x": {"field": "lo", "type": "quantitative", "scale": {"domain": [7, 50], "nice": false, "zero": false}, "axis": {"values": [10,20,30,40,50], "title": "Eₜ / GeV", "titleAnchor": "end", "titleFontSize": 13, "labelFontSize": 11, "titlePadding": 1}},
"x2": {"field": "hi"},
"y": {"field": "blo", "type": "quantitative", "scale": {"domain": [0.37, 2.32], "nice": false, "zero": false}, "axis": {"tickCount": 100, "values": [0.5,0.75,1.0,1.25,1.5,1.75,2.0,2.25], "labelExpr": "abs(datum.value*2-round(datum.value*2))<0.01 ? format(datum.value,'.1f') : ''", "title": "R", "titleFontSize": 11.5, "titlePadding": 12, "labelFontSize": 10.5}},
"y2": {"field": "bhi"}}},
{"data": {"name": "ann"}, "transform": [{"filter": "datum.p=='Lf'"}], "mark": {"type": "rule", "color": "#5b5bd6", "strokeDash": [4, 3]}, "encoding": {"y": {"datum": 1}}},
{"mark": {"type": "rule", "color": "black"}, "encoding": {"x": {"field": "x", "type": "quantitative"}, "y": {"field": "rlo", "type": "quantitative"}, "y2": {"field": "rhi"}}},
{"mark": {"type": "tick", "orient": "horizontal", "size": 6, "thickness": 1, "color": "black", "opacity": 1}, "encoding": {"x": {"field": "x", "type": "quantitative"}, "y": {"field": "rslo", "type": "quantitative"}}},
{"mark": {"type": "tick", "orient": "horizontal", "size": 6, "thickness": 1, "color": "black", "opacity": 1}, "encoding": {"x": {"field": "x", "type": "quantitative"}, "y": {"field": "rshi", "type": "quantitative"}}},
{"mark": {"type": "circle", "color": "black", "size": 40, "opacity": 1}, "encoding": {"x": {"field": "x", "type": "quantitative"}, "y": {"field": "r", "type": "quantitative"}}}
]}
]}
]}
]}
]
},
{
"title": {"text": "Normalised Inclusive Jet Cross Section", "fontSize": 21, "anchor": "middle", "offset": -11, "baseline": "alphabetic"},
"spacing": 6,
"vconcat": [
{"spacing": 6, "hconcat": [
{"spacing": 0, "bounds": "flush", "vconcat": [
{"width": 199, "height": 111, "transform": [{"filter": "datum.p=='Ra'"}], "layer": [
{"mark": {"type": "rect", "color": "#1ff0f0"}, "encoding": {
"x": {"field": "lo", "type": "quantitative", "scale": {"domain": [7, 50], "nice": false, "zero": false}, "axis": {"values": [10,20,30,40,50], "labels": false, "title": null}},
"x2": {"field": "hi"},
"y": {"field": "nlo", "type": "quantitative", "scale": {"type": "log", "domain": [1.26e-3, 0.48], "nice": false}, "axis": {"tickCount": 100, "values": [1e-7,2e-7,3e-7,4e-7,5e-7,6e-7,7e-7,8e-7,9e-7,1e-6,2e-6,3e-6,4e-6,5e-6,6e-6,7e-6,8e-6,9e-6,1e-5,2e-5,3e-5,4e-5,5e-5,6e-5,7e-5,8e-5,9e-5,1e-4,2e-4,3e-4,4e-4,5e-4,6e-4,7e-4,8e-4,9e-4,0.001,0.002,0.003,0.004,0.005,0.006,0.007,0.008,0.009,0.01,0.02,0.03,0.04,0.05,0.06,0.07,0.08,0.09,0.1,0.2,0.3,0.4,0.5,0.6,0.7,0.8,0.9,1], "labelExpr": "abs(log(datum.value)/LN10-round(log(datum.value)/LN10))<0.01 ? '10'+['⁻⁷','⁻⁶','⁻⁵','⁻⁴','⁻³','⁻²','⁻¹','⁰'][round(log(datum.value)/LN10)+7] : ''", "title": "σjet/σNC", "titleFontSize": 13, "titlePadding": 8, "labelFontSize": 10.5}},
"y2": {"field": "nhi"}}},
{"mark": {"type": "line", "interpolate": "step-after", "color": "#7ff5f5", "strokeWidth": 1}, "encoding": {"x": {"field": "lo", "type": "quantitative"}, "y": {"field": "n", "type": "quantitative"}}},
{"mark": {"type": "rule", "color": "black"}, "encoding": {"x": {"field": "x", "type": "quantitative"}, "y": {"field": "ylo", "type": "quantitative"}, "y2": {"field": "yhi"}}},
{"mark": {"type": "circle", "color": "black", "size": 40, "opacity": 1}, "encoding": {"x": {"field": "x", "type": "quantitative"}, "y": {"field": "y", "type": "quantitative"}}},
{"data": {"name": "ann"}, "transform": [{"filter": "datum.p=='Ra'"}], "mark": {"type": "text", "fontSize": 10.8, "fontWeight": "bold", "align": "center", "baseline": "alphabetic"}, "encoding": {"text": {"field": "q2"}, "x": {"datum": 30.5}, "y": {"datum": 0.252}}},
{"data": {"name": "ann"}, "transform": [{"filter": "datum.p=='Ra'"}], "mark": {"type": "text", "fontSize": 10.8, "fontWeight": "bold", "align": "right", "baseline": "alphabetic"}, "encoding": {"text": {"field": "letter"}, "x": {"datum": 49.3}, "y": {"datum": 0.252}}},
{"data": {"name": "ann"}, "transform": [{"filter": "datum.p=='Ra'"}], "mark": {"type": "rect", "color": "#1ff0f0"}, "encoding": {"x": {"datum": 28.0}, "x2": {"datum": 31.0}, "y": {"datum": 0.0372}, "y2": {"datum": 0.0716}}},
{"data": {"name": "ann"}, "transform": [{"filter": "datum.p=='Ra'"}], "mark": {"type": "rule", "color": "black"}, "encoding": {"x": {"datum": 29.6}, "y": {"datum": 0.0857}, "y2": {"datum": 0.185}}},
{"data": {"name": "ann"}, "transform": [{"filter": "datum.p=='Ra'"}], "mark": {"type": "circle", "color": "black", "size": 40, "opacity": 1}, "encoding": {"x": {"datum": 29.6}, "y": {"datum": 0.126}}},
{"data": {"name": "ann"}, "transform": [{"filter": "datum.p=='Ra'"}], "mark": {"type": "text", "fontSize": 9, "fontWeight": "bold", "align": "left", "baseline": "middle"}, "encoding": {"text": {"field": "leg1"}, "x": {"datum": 31.8}, "y": {"datum": 0.126}}},
{"data": {"name": "ann"}, "transform": [{"filter": "datum.p=='Ra'"}], "mark": {"type": "text", "fontSize": 9, "fontWeight": "bold", "align": "left", "baseline": "middle"}, "encoding": {"text": {"field": "leg2"}, "x": {"datum": 31.8}, "y": {"datum": 0.0501}}}
]},
{"width": 199, "height": 50, "transform": [{"filter": "datum.p=='Ra'"}], "layer": [
{"mark": {"type": "rect", "color": "#1ff0f0"}, "encoding": {
"x": {"field": "lo", "type": "quantitative", "scale": {"domain": [7, 50], "nice": false, "zero": false}, "axis": {"values": [10,20,30,40,50], "title": "Eₜ / GeV", "titleAnchor": "end", "titleFontSize": 13, "labelFontSize": 11, "titlePadding": 1}},
"x2": {"field": "hi"},
"y": {"field": "blo", "type": "quantitative", "scale": {"domain": [0.79, 1.39], "nice": false, "zero": false}, "axis": {"tickCount": 100, "values": [0.4,0.5,0.6,0.7,0.8,0.9,1.0,1.1,1.2,1.3,1.4,1.5], "labelExpr": "abs(datum.value*5-round(datum.value*5))<0.01 ? format(datum.value,'.1f') : ''", "title": "R", "titleFontSize": 11.5, "titlePadding": 12, "labelFontSize": 10.5}},
"y2": {"field": "bhi"}}},
{"data": {"name": "ann"}, "transform": [{"filter": "datum.p=='Ra'"}], "mark": {"type": "rule", "color": "#5b5bd6", "strokeDash": [4, 3]}, "encoding": {"y": {"datum": 1}}},
{"mark": {"type": "rule", "color": "black"}, "encoding": {"x": {"field": "x", "type": "quantitative"}, "y": {"field": "rlo", "type": "quantitative"}, "y2": {"field": "rhi"}}},
{"mark": {"type": "tick", "orient": "horizontal", "size": 6, "thickness": 1, "color": "black", "opacity": 1}, "encoding": {"x": {"field": "x", "type": "quantitative"}, "y": {"field": "rslo", "type": "quantitative"}}},
{"mark": {"type": "tick", "orient": "horizontal", "size": 6, "thickness": 1, "color": "black", "opacity": 1}, "encoding": {"x": {"field": "x", "type": "quantitative"}, "y": {"field": "rshi", "type": "quantitative"}}},
{"mark": {"type": "circle", "color": "black", "size": 40, "opacity": 1}, "encoding": {"x": {"field": "x", "type": "quantitative"}, "y": {"field": "r", "type": "quantitative"}}}
]}
]},
{"spacing": 0, "bounds": "flush", "vconcat": [
{"width": 197, "height": 111, "transform": [{"filter": "datum.p=='Rb'"}], "layer": [
{"mark": {"type": "rect", "color": "#1ff0f0"}, "encoding": {
"x": {"field": "lo", "type": "quantitative", "scale": {"domain": [7, 50], "nice": false, "zero": false}, "axis": {"values": [10,20,30,40,50], "labels": false, "title": null}},
"x2": {"field": "hi"},
"y": {"field": "nlo", "type": "quantitative", "scale": {"type": "log", "domain": [1.22e-3, 0.51], "nice": false}, "axis": {"tickCount": 100, "values": [1e-7,2e-7,3e-7,4e-7,5e-7,6e-7,7e-7,8e-7,9e-7,1e-6,2e-6,3e-6,4e-6,5e-6,6e-6,7e-6,8e-6,9e-6,1e-5,2e-5,3e-5,4e-5,5e-5,6e-5,7e-5,8e-5,9e-5,1e-4,2e-4,3e-4,4e-4,5e-4,6e-4,7e-4,8e-4,9e-4,0.001,0.002,0.003,0.004,0.005,0.006,0.007,0.008,0.009,0.01,0.02,0.03,0.04,0.05,0.06,0.07,0.08,0.09,0.1,0.2,0.3,0.4,0.5,0.6,0.7,0.8,0.9,1], "labelExpr": "abs(log(datum.value)/LN10-round(log(datum.value)/LN10))<0.01 ? '10'+['⁻⁷','⁻⁶','⁻⁵','⁻⁴','⁻³','⁻²','⁻¹','⁰'][round(log(datum.value)/LN10)+7] : ''", "title": "σjet/σNC", "titleFontSize": 13, "titlePadding": 8, "labelFontSize": 10.5}},
"y2": {"field": "nhi"}}},
{"mark": {"type": "line", "interpolate": "step-after", "color": "#7ff5f5", "strokeWidth": 1}, "encoding": {"x": {"field": "lo", "type": "quantitative"}, "y": {"field": "n", "type": "quantitative"}}},
{"mark": {"type": "rule", "color": "black"}, "encoding": {"x": {"field": "x", "type": "quantitative"}, "y": {"field": "ylo", "type": "quantitative"}, "y2": {"field": "yhi"}}},
{"mark": {"type": "circle", "color": "black", "size": 40, "opacity": 1}, "encoding": {"x": {"field": "x", "type": "quantitative"}, "y": {"field": "y", "type": "quantitative"}}},
{"data": {"name": "ann"}, "transform": [{"filter": "datum.p=='Rb'"}], "mark": {"type": "text", "fontSize": 10.8, "fontWeight": "bold", "align": "center", "baseline": "alphabetic"}, "encoding": {"text": {"field": "q2"}, "x": {"datum": 30.5}, "y": {"datum": 0.266}}},
{"data": {"name": "ann"}, "transform": [{"filter": "datum.p=='Rb'"}], "mark": {"type": "text", "fontSize": 10.8, "fontWeight": "bold", "align": "right", "baseline": "alphabetic"}, "encoding": {"text": {"field": "letter"}, "x": {"datum": 49.3}, "y": {"datum": 0.266}}},
{"data": {"name": "ann"}, "transform": [{"filter": "datum.p=='Rb'"}], "mark": {"type": "text", "fontSize": 17, "fontWeight": "bold", "align": "left", "baseline": "alphabetic"}, "encoding": {"text": {"field": "h1"}, "x": {"datum": 9.4}, "y": {"datum": 1.92e-3}}}
]},
{"width": 197, "height": 50, "transform": [{"filter": "datum.p=='Rb'"}], "layer": [
{"mark": {"type": "rect", "color": "#1ff0f0"}, "encoding": {
"x": {"field": "lo", "type": "quantitative", "scale": {"domain": [7, 50], "nice": false, "zero": false}, "axis": {"values": [10,20,30,40,50], "title": "Eₜ / GeV", "titleAnchor": "end", "titleFontSize": 13, "labelFontSize": 11, "titlePadding": 1}},
"x2": {"field": "hi"},
"y": {"field": "blo", "type": "quantitative", "scale": {"domain": [0.7, 1.29], "nice": false, "zero": false}, "axis": {"tickCount": 100, "values": [0.4,0.5,0.6,0.7,0.8,0.9,1.0,1.1,1.2,1.3,1.4,1.5], "labelExpr": "abs(datum.value*5-round(datum.value*5))<0.01 ? format(datum.value,'.1f') : ''", "title": "R", "titleFontSize": 11.5, "titlePadding": 12, "labelFontSize": 10.5}},
"y2": {"field": "bhi"}}},
{"data": {"name": "ann"}, "transform": [{"filter": "datum.p=='Rb'"}], "mark": {"type": "rule", "color": "#5b5bd6", "strokeDash": [4, 3]}, "encoding": {"y": {"datum": 1}}},
{"mark": {"type": "rule", "color": "black"}, "encoding": {"x": {"field": "x", "type": "quantitative"}, "y": {"field": "rlo", "type": "quantitative"}, "y2": {"field": "rhi"}}},
{"mark": {"type": "tick", "orient": "horizontal", "size": 6, "thickness": 1, "color": "black", "opacity": 1}, "encoding": {"x": {"field": "x", "type": "quantitative"}, "y": {"field": "rslo", "type": "quantitative"}}},
{"mark": {"type": "tick", "orient": "horizontal", "size": 6, "thickness": 1, "color": "black", "opacity": 1}, "encoding": {"x": {"field": "x", "type": "quantitative"}, "y": {"field": "rshi", "type": "quantitative"}}},
{"mark": {"type": "circle", "color": "black", "size": 40, "opacity": 1}, "encoding": {"x": {"field": "x", "type": "quantitative"}, "y": {"field": "r", "type": "quantitative"}}}
]}
]}
]},
{"spacing": 5, "vconcat": [
{"spacing": 6, "hconcat": [
{"spacing": 0, "bounds": "flush", "vconcat": [
{"width": 199, "height": 111, "transform": [{"filter": "datum.p=='Rc'"}], "layer": [
{"mark": {"type": "rect", "color": "#1ff0f0"}, "encoding": {
"x": {"field": "lo", "type": "quantitative", "scale": {"domain": [7, 50], "nice": false, "zero": false}, "axis": {"values": [10,20,30,40,50], "labels": false, "title": null}},
"x2": {"field": "hi"},
"y": {"field": "nlo", "type": "quantitative", "scale": {"type": "log", "domain": [1.24e-3, 0.475], "nice": false}, "axis": {"tickCount": 100, "values": [1e-7,2e-7,3e-7,4e-7,5e-7,6e-7,7e-7,8e-7,9e-7,1e-6,2e-6,3e-6,4e-6,5e-6,6e-6,7e-6,8e-6,9e-6,1e-5,2e-5,3e-5,4e-5,5e-5,6e-5,7e-5,8e-5,9e-5,1e-4,2e-4,3e-4,4e-4,5e-4,6e-4,7e-4,8e-4,9e-4,0.001,0.002,0.003,0.004,0.005,0.006,0.007,0.008,0.009,0.01,0.02,0.03,0.04,0.05,0.06,0.07,0.08,0.09,0.1,0.2,0.3,0.4,0.5,0.6,0.7,0.8,0.9,1], "labelExpr": "abs(log(datum.value)/LN10-round(log(datum.value)/LN10))<0.01 ? '10'+['⁻⁷','⁻⁶','⁻⁵','⁻⁴','⁻³','⁻²','⁻¹','⁰'][round(log(datum.value)/LN10)+7] : ''", "title": "σjet/σNC", "titleFontSize": 13, "titlePadding": 8, "labelFontSize": 10.5}},
"y2": {"field": "nhi"}}},
{"mark": {"type": "line", "interpolate": "step-after", "color": "#7ff5f5", "strokeWidth": 1}, "encoding": {"x": {"field": "lo", "type": "quantitative"}, "y": {"field": "n", "type": "quantitative"}}},
{"mark": {"type": "rule", "color": "black"}, "encoding": {"x": {"field": "x", "type": "quantitative"}, "y": {"field": "ylo", "type": "quantitative"}, "y2": {"field": "yhi"}}},
{"mark": {"type": "circle", "color": "black", "size": 40, "opacity": 1}, "encoding": {"x": {"field": "x", "type": "quantitative"}, "y": {"field": "y", "type": "quantitative"}}},
{"data": {"name": "ann"}, "transform": [{"filter": "datum.p=='Rc'"}], "mark": {"type": "text", "fontSize": 10.8, "fontWeight": "bold", "align": "center", "baseline": "alphabetic"}, "encoding": {"text": {"field": "q2"}, "x": {"datum": 30.5}, "y": {"datum": 0.25}}},
{"data": {"name": "ann"}, "transform": [{"filter": "datum.p=='Rc'"}], "mark": {"type": "text", "fontSize": 10.8, "fontWeight": "bold", "align": "right", "baseline": "alphabetic"}, "encoding": {"text": {"field": "letter"}, "x": {"datum": 49.3}, "y": {"datum": 0.25}}},
{"data": {"name": "ann"}, "transform": [{"filter": "datum.p=='Rc'"}], "mark": {"type": "text", "fontSize": 17, "fontWeight": "bold", "align": "left", "baseline": "alphabetic"}, "encoding": {"text": {"field": "h1"}, "x": {"datum": 9.4}, "y": {"datum": 1.94e-3}}}
]},
{"width": 199, "height": 50, "transform": [{"filter": "datum.p=='Rc'"}], "layer": [
{"mark": {"type": "rect", "color": "#1ff0f0"}, "encoding": {
"x": {"field": "lo", "type": "quantitative", "scale": {"domain": [7, 50], "nice": false, "zero": false}, "axis": {"values": [10,20,30,40,50], "title": "Eₜ / GeV", "titleAnchor": "end", "titleFontSize": 13, "labelFontSize": 11, "titlePadding": 1}},
"x2": {"field": "hi"},
"y": {"field": "blo", "type": "quantitative", "scale": {"domain": [0.49, 1.31], "nice": false, "zero": false}, "axis": {"tickCount": 100, "values": [0.4,0.5,0.6,0.7,0.8,0.9,1.0,1.1,1.2,1.3,1.4,1.5,1.6,1.7,1.8], "labelExpr": "abs(datum.value*2-round(datum.value*2))<0.01 ? format(datum.value,'.1f') : ''", "title": "R", "titleFontSize": 11.5, "titlePadding": 12, "labelFontSize": 10.5}},
"y2": {"field": "bhi"}}},
{"data": {"name": "ann"}, "transform": [{"filter": "datum.p=='Rc'"}], "mark": {"type": "rule", "color": "#5b5bd6", "strokeDash": [4, 3]}, "encoding": {"y": {"datum": 1}}},
{"mark": {"type": "rule", "color": "black"}, "encoding": {"x": {"field": "x", "type": "quantitative"}, "y": {"field": "rlo", "type": "quantitative"}, "y2": {"field": "rhi"}}},
{"mark": {"type": "tick", "orient": "horizontal", "size": 6, "thickness": 1, "color": "black", "opacity": 1}, "encoding": {"x": {"field": "x", "type": "quantitative"}, "y": {"field": "rslo", "type": "quantitative"}}},
{"mark": {"type": "tick", "orient": "horizontal", "size": 6, "thickness": 1, "color": "black", "opacity": 1}, "encoding": {"x": {"field": "x", "type": "quantitative"}, "y": {"field": "rshi", "type": "quantitative"}}},
{"mark": {"type": "circle", "color": "black", "size": 40, "opacity": 1}, "encoding": {"x": {"field": "x", "type": "quantitative"}, "y": {"field": "r", "type": "quantitative"}}}
]}
]},
{"spacing": 0, "bounds": "flush", "vconcat": [
{"width": 197, "height": 111, "transform": [{"filter": "datum.p=='Rd'"}], "layer": [
{"mark": {"type": "rect", "color": "#1ff0f0"}, "encoding": {
"x": {"field": "lo", "type": "quantitative", "scale": {"domain": [7, 50], "nice": false, "zero": false}, "axis": {"values": [10,20,30,40,50], "labels": false, "title": null}},
"x2": {"field": "hi"},
"y": {"field": "nlo", "type": "quantitative", "scale": {"type": "log", "domain": [1.26e-3, 0.507], "nice": false}, "axis": {"tickCount": 100, "values": [1e-7,2e-7,3e-7,4e-7,5e-7,6e-7,7e-7,8e-7,9e-7,1e-6,2e-6,3e-6,4e-6,5e-6,6e-6,7e-6,8e-6,9e-6,1e-5,2e-5,3e-5,4e-5,5e-5,6e-5,7e-5,8e-5,9e-5,1e-4,2e-4,3e-4,4e-4,5e-4,6e-4,7e-4,8e-4,9e-4,0.001,0.002,0.003,0.004,0.005,0.006,0.007,0.008,0.009,0.01,0.02,0.03,0.04,0.05,0.06,0.07,0.08,0.09,0.1,0.2,0.3,0.4,0.5,0.6,0.7,0.8,0.9,1], "labelExpr": "abs(log(datum.value)/LN10-round(log(datum.value)/LN10))<0.01 ? '10'+['⁻⁷','⁻⁶','⁻⁵','⁻⁴','⁻³','⁻²','⁻¹','⁰'][round(log(datum.value)/LN10)+7] : ''", "title": "σjet/σNC", "titleFontSize": 13, "titlePadding": 8, "labelFontSize": 10.5}},
"y2": {"field": "nhi"}}},
{"mark": {"type": "line", "interpolate": "step-after", "color": "#7ff5f5", "strokeWidth": 1}, "encoding": {"x": {"field": "lo", "type": "quantitative"}, "y": {"field": "n", "type": "quantitative"}}},
{"mark": {"type": "rule", "color": "black"}, "encoding": {"x": {"field": "x", "type": "quantitative"}, "y": {"field": "ylo", "type": "quantitative"}, "y2": {"field": "yhi"}}},
{"mark": {"type": "circle", "color": "black", "size": 40, "opacity": 1}, "encoding": {"x": {"field": "x", "type": "quantitative"}, "y": {"field": "y", "type": "quantitative"}}},
{"data": {"name": "ann"}, "transform": [{"filter": "datum.p=='Rd'"}], "mark": {"type": "text", "fontSize": 10.8, "fontWeight": "bold", "align": "center", "baseline": "alphabetic"}, "encoding": {"text": {"field": "q2"}, "x": {"datum": 30.5}, "y": {"datum": 0.265}}},
{"data": {"name": "ann"}, "transform": [{"filter": "datum.p=='Rd'"}], "mark": {"type": "text", "fontSize": 10.8, "fontWeight": "bold", "align": "right", "baseline": "alphabetic"}, "encoding": {"text": {"field": "letter"}, "x": {"datum": 49.3}, "y": {"datum": 0.265}}},
{"data": {"name": "ann"}, "transform": [{"filter": "datum.p=='Rd'"}], "mark": {"type": "text", "fontSize": 17, "fontWeight": "bold", "align": "left", "baseline": "alphabetic"}, "encoding": {"text": {"field": "h1"}, "x": {"datum": 9.4}, "y": {"datum": 1.97e-3}}}
]},
{"width": 197, "height": 50, "transform": [{"filter": "datum.p=='Rd'"}], "layer": [
{"mark": {"type": "rect", "color": "#1ff0f0"}, "encoding": {
"x": {"field": "lo", "type": "quantitative", "scale": {"domain": [7, 50], "nice": false, "zero": false}, "axis": {"values": [10,20,30,40,50], "title": "Eₜ / GeV", "titleAnchor": "end", "titleFontSize": 13, "labelFontSize": 11, "titlePadding": 1}},
"x2": {"field": "hi"},
"y": {"field": "blo", "type": "quantitative", "scale": {"domain": [0.83, 1.65], "nice": false, "zero": false}, "axis": {"tickCount": 100, "values": [0.4,0.5,0.6,0.7,0.8,0.9,1.0,1.1,1.2,1.3,1.4,1.5,1.6,1.7,1.8], "labelExpr": "abs(datum.value*2-round(datum.value*2))<0.01 ? format(datum.value,'.1f') : ''", "title": "R", "titleFontSize": 11.5, "titlePadding": 12, "labelFontSize": 10.5}},
"y2": {"field": "bhi"}}},
{"data": {"name": "ann"}, "transform": [{"filter": "datum.p=='Rd'"}], "mark": {"type": "rule", "color": "#5b5bd6", "strokeDash": [4, 3]}, "encoding": {"y": {"datum": 1}}},
{"mark": {"type": "rule", "color": "black"}, "encoding": {"x": {"field": "x", "type": "quantitative"}, "y": {"field": "rlo", "type": "quantitative"}, "y2": {"field": "rhi"}}},
{"mark": {"type": "tick", "orient": "horizontal", "size": 6, "thickness": 1, "color": "black", "opacity": 1}, "encoding": {"x": {"field": "x", "type": "quantitative"}, "y": {"field": "rslo", "type": "quantitative"}}},
{"mark": {"type": "tick", "orient": "horizontal", "size": 6, "thickness": 1, "color": "black", "opacity": 1}, "encoding": {"x": {"field": "x", "type": "quantitative"}, "y": {"field": "rshi", "type": "quantitative"}}},
{"mark": {"type": "circle", "color": "black", "size": 40, "opacity": 1}, "encoding": {"x": {"field": "x", "type": "quantitative"}, "y": {"field": "r", "type": "quantitative"}}}
]}
]}
]},
{"spacing": 6, "hconcat": [
{"spacing": 0, "bounds": "flush", "vconcat": [
{"width": 199, "height": 111, "transform": [{"filter": "datum.p=='Re'"}], "layer": [
{"mark": {"type": "rect", "color": "#1ff0f0"}, "encoding": {
"x": {"field": "lo", "type": "quantitative", "scale": {"domain": [7, 50], "nice": false, "zero": false}, "axis": {"values": [10,20,30,40,50], "labels": false, "title": null}},
"x2": {"field": "hi"},
"y": {"field": "nlo", "type": "quantitative", "scale": {"type": "log", "domain": [1.3e-3, 0.475], "nice": false}, "axis": {"tickCount": 100, "values": [1e-7,2e-7,3e-7,4e-7,5e-7,6e-7,7e-7,8e-7,9e-7,1e-6,2e-6,3e-6,4e-6,5e-6,6e-6,7e-6,8e-6,9e-6,1e-5,2e-5,3e-5,4e-5,5e-5,6e-5,7e-5,8e-5,9e-5,1e-4,2e-4,3e-4,4e-4,5e-4,6e-4,7e-4,8e-4,9e-4,0.001,0.002,0.003,0.004,0.005,0.006,0.007,0.008,0.009,0.01,0.02,0.03,0.04,0.05,0.06,0.07,0.08,0.09,0.1,0.2,0.3,0.4,0.5,0.6,0.7,0.8,0.9,1], "labelExpr": "abs(log(datum.value)/LN10-round(log(datum.value)/LN10))<0.01 ? '10'+['⁻⁷','⁻⁶','⁻⁵','⁻⁴','⁻³','⁻²','⁻¹','⁰'][round(log(datum.value)/LN10)+7] : ''", "title": "σjet/σNC", "titleFontSize": 13, "titlePadding": 8, "labelFontSize": 10.5}},
"y2": {"field": "nhi"}}},
{"mark": {"type": "line", "interpolate": "step-after", "color": "#7ff5f5", "strokeWidth": 1}, "encoding": {"x": {"field": "lo", "type": "quantitative"}, "y": {"field": "n", "type": "quantitative"}}},
{"mark": {"type": "rule", "color": "black"}, "encoding": {"x": {"field": "x", "type": "quantitative"}, "y": {"field": "ylo", "type": "quantitative"}, "y2": {"field": "yhi"}}},
{"mark": {"type": "circle", "color": "black", "size": 40, "opacity": 1}, "encoding": {"x": {"field": "x", "type": "quantitative"}, "y": {"field": "y", "type": "quantitative"}}},
{"data": {"name": "ann"}, "transform": [{"filter": "datum.p=='Re'"}], "mark": {"type": "text", "fontSize": 10.8, "fontWeight": "bold", "align": "center", "baseline": "alphabetic"}, "encoding": {"text": {"field": "q2"}, "x": {"datum": 30.5}, "y": {"datum": 0.251}}},
{"data": {"name": "ann"}, "transform": [{"filter": "datum.p=='Re'"}], "mark": {"type": "text", "fontSize": 10.8, "fontWeight": "bold", "align": "right", "baseline": "alphabetic"}, "encoding": {"text": {"field": "letter"}, "x": {"datum": 49.3}, "y": {"datum": 0.251}}},
{"data": {"name": "ann"}, "transform": [{"filter": "datum.p=='Re'"}], "mark": {"type": "text", "fontSize": 17, "fontWeight": "bold", "align": "left", "baseline": "alphabetic"}, "encoding": {"text": {"field": "h1"}, "x": {"datum": 9.4}, "y": {"datum": 2.02e-3}}}
]},
{"width": 199, "height": 50, "transform": [{"filter": "datum.p=='Re'"}], "layer": [
{"mark": {"type": "rect", "color": "#1ff0f0"}, "encoding": {
"x": {"field": "lo", "type": "quantitative", "scale": {"domain": [7, 50], "nice": false, "zero": false}, "axis": {"values": [10,20,30,40,50], "title": "Eₜ / GeV", "titleAnchor": "end", "titleFontSize": 13, "labelFontSize": 11, "titlePadding": 1}},
"x2": {"field": "hi"},
"y": {"field": "blo", "type": "quantitative", "scale": {"domain": [0.79, 1.3], "nice": false, "zero": false}, "axis": {"tickCount": 100, "values": [0.4,0.5,0.6,0.7,0.8,0.9,1.0,1.1,1.2,1.3,1.4,1.5], "labelExpr": "abs(datum.value*5-round(datum.value*5))<0.01 ? format(datum.value,'.1f') : ''", "title": "R", "titleFontSize": 11.5, "titlePadding": 12, "labelFontSize": 10.5}},
"y2": {"field": "bhi"}}},
{"data": {"name": "ann"}, "transform": [{"filter": "datum.p=='Re'"}], "mark": {"type": "rule", "color": "#5b5bd6", "strokeDash": [4, 3]}, "encoding": {"y": {"datum": 1}}},
{"mark": {"type": "rule", "color": "black"}, "encoding": {"x": {"field": "x", "type": "quantitative"}, "y": {"field": "rlo", "type": "quantitative"}, "y2": {"field": "rhi"}}},
{"mark": {"type": "tick", "orient": "horizontal", "size": 6, "thickness": 1, "color": "black", "opacity": 1}, "encoding": {"x": {"field": "x", "type": "quantitative"}, "y": {"field": "rslo", "type": "quantitative"}}},
{"mark": {"type": "tick", "orient": "horizontal", "size": 6, "thickness": 1, "color": "black", "opacity": 1}, "encoding": {"x": {"field": "x", "type": "quantitative"}, "y": {"field": "rshi", "type": "quantitative"}}},
{"mark": {"type": "circle", "color": "black", "size": 40, "opacity": 1}, "encoding": {"x": {"field": "x", "type": "quantitative"}, "y": {"field": "r", "type": "quantitative"}}}
]}
]},
{"spacing": 0, "bounds": "flush", "vconcat": [
{"width": 197, "height": 111, "transform": [{"filter": "datum.p=='Rf'"}], "layer": [
{"mark": {"type": "rect", "color": "#1ff0f0"}, "encoding": {
"x": {"field": "lo", "type": "quantitative", "scale": {"domain": [7, 50], "nice": false, "zero": false}, "axis": {"values": [10,20,30,40,50], "labels": false, "title": null}},
"x2": {"field": "hi"},
"y": {"field": "nlo", "type": "quantitative", "scale": {"type": "log", "domain": [1.3e-3, 0.475], "nice": false}, "axis": {"tickCount": 100, "values": [1e-7,2e-7,3e-7,4e-7,5e-7,6e-7,7e-7,8e-7,9e-7,1e-6,2e-6,3e-6,4e-6,5e-6,6e-6,7e-6,8e-6,9e-6,1e-5,2e-5,3e-5,4e-5,5e-5,6e-5,7e-5,8e-5,9e-5,1e-4,2e-4,3e-4,4e-4,5e-4,6e-4,7e-4,8e-4,9e-4,0.001,0.002,0.003,0.004,0.005,0.006,0.007,0.008,0.009,0.01,0.02,0.03,0.04,0.05,0.06,0.07,0.08,0.09,0.1,0.2,0.3,0.4,0.5,0.6,0.7,0.8,0.9,1], "labelExpr": "abs(log(datum.value)/LN10-round(log(datum.value)/LN10))<0.01 ? '10'+['⁻⁷','⁻⁶','⁻⁵','⁻⁴','⁻³','⁻²','⁻¹','⁰'][round(log(datum.value)/LN10)+7] : ''", "title": "σjet/σNC", "titleFontSize": 13, "titlePadding": 8, "labelFontSize": 10.5}},
"y2": {"field": "nhi"}}},
{"mark": {"type": "line", "interpolate": "step-after", "color": "#7ff5f5", "strokeWidth": 1}, "encoding": {"x": {"field": "lo", "type": "quantitative"}, "y": {"field": "n", "type": "quantitative"}}},
{"mark": {"type": "rule", "color": "black"}, "encoding": {"x": {"field": "x", "type": "quantitative"}, "y": {"field": "ylo", "type": "quantitative"}, "y2": {"field": "yhi"}}},
{"mark": {"type": "circle", "color": "black", "size": 40, "opacity": 1}, "encoding": {"x": {"field": "x", "type": "quantitative"}, "y": {"field": "y", "type": "quantitative"}}},
{"data": {"name": "ann"}, "transform": [{"filter": "datum.p=='Rf'"}], "mark": {"type": "text", "fontSize": 10.8, "fontWeight": "bold", "align": "center", "baseline": "alphabetic"}, "encoding": {"text": {"field": "q2"}, "x": {"datum": 30.5}, "y": {"datum": 0.251}}},
{"data": {"name": "ann"}, "transform": [{"filter": "datum.p=='Rf'"}], "mark": {"type": "text", "fontSize": 10.8, "fontWeight": "bold", "align": "right", "baseline": "alphabetic"}, "encoding": {"text": {"field": "letter"}, "x": {"datum": 49.3}, "y": {"datum": 0.251}}},
{"data": {"name": "ann"}, "transform": [{"filter": "datum.p=='Rf'"}], "mark": {"type": "text", "fontSize": 17, "fontWeight": "bold", "align": "left", "baseline": "alphabetic"}, "encoding": {"text": {"field": "h1"}, "x": {"datum": 9.4}, "y": {"datum": 2.02e-3}}}
]},
{"width": 197, "height": 50, "transform": [{"filter": "datum.p=='Rf'"}], "layer": [
{"mark": {"type": "rect", "color": "#1ff0f0"}, "encoding": {
"x": {"field": "lo", "type": "quantitative", "scale": {"domain": [7, 50], "nice": false, "zero": false}, "axis": {"values": [10,20,30,40,50], "title": "Eₜ / GeV", "titleAnchor": "end", "titleFontSize": 13, "labelFontSize": 11, "titlePadding": 1}},
"x2": {"field": "hi"},
"y": {"field": "blo", "type": "quantitative", "scale": {"domain": [0.45, 2.3], "nice": false, "zero": false}, "axis": {"tickCount": 100, "values": [0.5,0.75,1.0,1.25,1.5,1.75,2.0,2.25], "labelExpr": "abs(datum.value*2-round(datum.value*2))<0.01 ? format(datum.value,'.1f') : ''", "title": "R", "titleFontSize": 11.5, "titlePadding": 12, "labelFontSize": 10.5}},
"y2": {"field": "bhi"}}},
{"data": {"name": "ann"}, "transform": [{"filter": "datum.p=='Rf'"}], "mark": {"type": "rule", "color": "#5b5bd6", "strokeDash": [4, 3]}, "encoding": {"y": {"datum": 1}}},
{"mark": {"type": "rule", "color": "black"}, "encoding": {"x": {"field": "x", "type": "quantitative"}, "y": {"field": "rlo", "type": "quantitative"}, "y2": {"field": "rhi"}}},
{"mark": {"type": "tick", "orient": "horizontal", "size": 6, "thickness": 1, "color": "black", "opacity": 1}, "encoding": {"x": {"field": "x", "type": "quantitative"}, "y": {"field": "rslo", "type": "quantitative"}}},
{"mark": {"type": "tick", "orient": "horizontal", "size": 6, "thickness": 1, "color": "black", "opacity": 1}, "encoding": {"x": {"field": "x", "type": "quantitative"}, "y": {"field": "rshi", "type": "quantitative"}}},
{"mark": {"type": "circle", "color": "black", "size": 40, "opacity": 1}, "encoding": {"x": {"field": "x", "type": "quantitative"}, "y": {"field": "r", "type": "quantitative"}}}
]}
]}
]}
]}
]
}
],
"spacing": 12,
"config": {
"font": "Liberation Sans",
"view": {"stroke": "black", "strokeWidth": 1},
"axis": {"domain": false, "grid": false, "tickSize": -4, "labelPadding": 7, "tickColor": "black", "labelColor": "black", "titleColor": "black", "labelFont": "Liberation Sans", "titleFont": "Liberation Sans", "labelFontWeight": "bold", "titleFontWeight": "bold", "labelFontSize": 10, "labelOverlap": false, "labelFlush": false, "labelBound": false},
"text": {"font": "Liberation Sans", "color": "black"},
"title": {"font": "Liberation Sans", "fontWeight": "bold", "color": "black"}
}
}
